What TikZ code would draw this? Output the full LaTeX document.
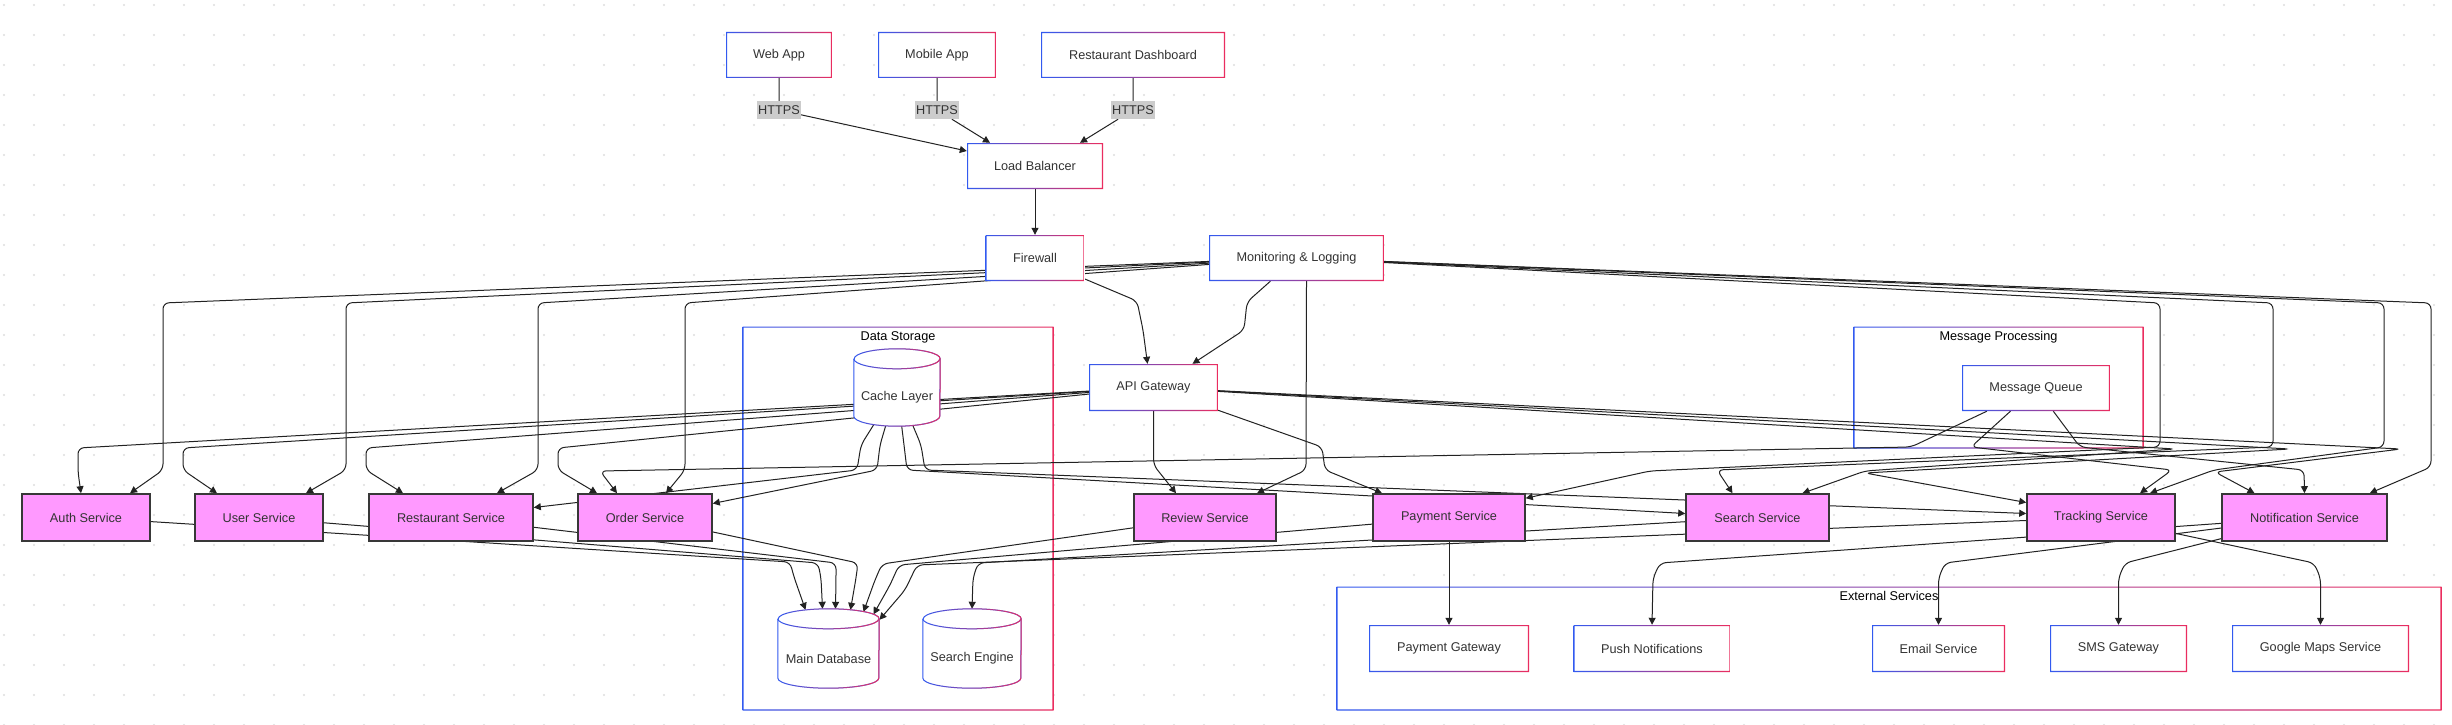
\documentclass[tikz,border=0pt]{standalone}
\usepackage{fontspec}
\setmainfont{Liberation Sans}
\usetikzlibrary{arrows.meta,calc,fadings}
\definecolor{cblue}{RGB}{50,90,240}
\definecolor{cpink}{RGB}{235,45,95}
\definecolor{csvc}{RGB}{255,153,255}
\definecolor{cedge}{RGB}{34,34,34}
\definecolor{ctext}{RGB}{51,51,51}
\definecolor{cdot}{RGB}{222,222,222}
\newcommand{\nf}{\fontsize{12.7}{15}\selectfont}
\pgfdeclarelayer{dots}
\pgfdeclarelayer{groups}
\pgfdeclarelayer{edges}
\pgfdeclarelayer{drums}
\pgfsetlayers{dots,groups,edges,drums,main}
\tikzset{
  % blue-to-pink outline for paths
  gline/.style={draw=cblue,line width=1pt,
    postaction={draw=cpink,line width=1pt,path fading=west}},
  % blue-to-pink frame inside a node, #1 = frame width
  gframe/.style={fill=white,path picture={
    \shade[left color=cblue,right color=cpink,even odd rule]
      (path picture bounding box.south west) rectangle (path picture bounding box.north east)
      ([shift={(#1,#1)}]path picture bounding box.south west)
      rectangle ([shift={(-#1,-#1)}]path picture bounding box.north east);}},
  plain/.style={rectangle,gframe=1.2pt,minimum height=46pt,font=\nf,text=ctext},
  svc/.style={rectangle,fill=csvc,draw=cedge!90,line width=1.6pt,minimum height=47pt,
    font=\nf,text=ctext},
  grp/.style={rectangle,gframe=1.1pt},
  grptitle/.style={font=\nf,text=black},
  drum/.style={rectangle,minimum height=79pt,inner sep=0pt},
  dlabel/.style={font=\nf,text=ctext,yshift=-10pt},
  tag/.style={rectangle,fill=gray!40,font=\nf,text=ctext,inner sep=1pt,
    minimum width=42pt,minimum height=18pt},
  arr/.style={draw=cedge,line width=1pt,rounded corners=6pt,
    -{Triangle[length=7pt,width=7pt]}}
}
% cylinder drawn round a named node, #2 = half width
\newcommand{\drum}[2]{%
  \begin{pgfonlayer}{drums}
    \path[fill=white] ([yshift=-10pt]#1.north west) -- ([yshift=10pt]#1.south west)
      arc[start angle=180,end angle=360,x radius=#2pt,y radius=10pt]
      -- ([yshift=-10pt]#1.north east)
      arc[start angle=0,end angle=180,x radius=#2pt,y radius=10pt] -- cycle;
    \draw[gline] ([yshift=-10pt]#1.north west) -- ([yshift=10pt]#1.south west)
      arc[start angle=180,end angle=360,x radius=#2pt,y radius=10pt]
      -- ([yshift=-10pt]#1.north east)
      arc[start angle=0,end angle=180,x radius=#2pt,y radius=10pt];
    \draw[gline] ([yshift=-10pt]#1.north west)
      arc[start angle=180,end angle=360,x radius=#2pt,y radius=10pt];
  \end{pgfonlayer}}

\begin{document}
\begin{tikzpicture}[x=1pt,y=-1pt]
  \useasboundingbox (0,0) rectangle (2452,725);
  \begin{pgfonlayer}{dots}
    \fill[white] (0,0) rectangle (2452,725);
    \foreach \x in {4,34,...,2434}
      \foreach \y in {5,35,...,725}
        \fill[cdot] (\x,\y) circle (1.1pt);
  \end{pgfonlayer}

  % groups
  \begin{pgfonlayer}{groups}
    \node[grp,minimum width=311pt,minimum height=384pt] (storage) at (898,518.5) {};
    \node[grp,minimum width=290pt,minimum height=122pt] (msgproc) at (1998.5,387.5) {};
    \node[grp,minimum width=1105pt,minimum height=124pt] (external) at (1889,648.5) {};
  \end{pgfonlayer}
  \node[grptitle] (storagetitle) at (898,337) {Data Storage};
  \node[grptitle] (msgproctitle) at (1998.5,337) {Message Processing};
  \node[grptitle] (externaltitle) at (1889,596) {External Services};

  % clients and entry
  \node[plain,minimum width=106pt] (web) at (779,55) {Web App};
  \node[plain,minimum width=118pt] (mob) at (937,55) {Mobile App};
  \node[plain,minimum width=184pt] (dash) at (1133,55) {Restaurant Dashboard};
  \node[tag] (webtag) at (779,110) {HTTPS};
  \node[tag] (mobtag) at (937,110) {HTTPS};
  \node[tag] (dashtag) at (1133,110) {HTTPS};
  \node[plain,minimum width=136pt] (lb) at (1035,166) {Load Balancer};
  \node[plain,minimum width=99pt] (fw) at (1035,258) {Firewall};
  \node[plain,minimum width=175pt] (mon) at (1296.5,258) {Monitoring \& Logging};
  \node[plain,minimum width=129pt,minimum height=47pt] (api) at (1153.5,387.5) {API Gateway};
  \node[plain,minimum width=148pt] (mq) at (2036,388) {Message Queue};

  % storage
  \node[drum,minimum width=86pt,minimum height=77pt,label={[dlabel]center:Cache Layer}] (cache) at (897,387.5) {};
  \node[drum,minimum width=101pt,label={[dlabel]center:Main Database}] (db) at (828.5,648.5) {};
  \node[drum,minimum width=98pt,label={[dlabel]center:Search Engine}] (se) at (972,648.5) {};
  \drum{cache}{43}
  \drum{db}{50.5}
  \drum{se}{49}

  % services
  \node[svc,minimum width=128pt] (auth) at (86,517.5) {Auth Service};
  \node[svc,minimum width=128pt] (user) at (259,517.5) {User Service};
  \node[svc,minimum width=164pt] (rest) at (451,517.5) {Restaurant Service};
  \node[svc,minimum width=134pt] (order) at (645,517.5) {Order Service};
  \node[svc,minimum width=142pt] (review) at (1205,517.5) {Review Service};
  \node[svc,minimum width=152pt] (pay) at (1449,517.5) {Payment Service};
  \node[svc,minimum width=143pt] (search) at (1757.5,517.5) {Search Service};
  \node[svc,minimum width=148pt] (track) at (2101,517.5) {Tracking Service};
  \node[svc,minimum width=165pt] (notif) at (2304.5,517.5) {Notification Service};

  % external
  \node[plain,minimum width=160pt,minimum height=47pt] (pgw) at (1449,648.5) {Payment Gateway};
  \node[plain,minimum width=157pt,minimum height=47pt] (push) at (1652,648.5) {Push Notifications};
  \node[plain,minimum width=133pt,minimum height=47pt] (email) at (1938.5,648.5) {Email Service};
  \node[plain,minimum width=137pt,minimum height=47pt] (sms) at (2118.5,648.5) {SMS Gateway};
  \node[plain,minimum width=177pt,minimum height=47pt] (gmaps) at (2320.5,648.5) {Google Maps Service};

  \begin{pgfonlayer}{edges}
    % entry path
    \draw[arr] (web) -- (webtag) -- ([yshift=15pt]lb.west);
    \draw[arr] (mob) -- (mobtag) -- ([xshift=-45pt]lb.north);
    \draw[arr] (dash) -- (dashtag) -- ([xshift=45pt]lb.north);
    \draw[arr] (lb) -- (fw);
    \draw[arr] (fw) -- (1137,301) -- (1143,330) -- ([xshift=-6pt]api.north);
    \draw[arr] (mon) -- (1247,302) -- (1244,330) -- ([xshift=39pt]api.north);

    % monitoring
    \draw[arr] (mon) -- (163,303) -- (163,470) -- ([xshift=44pt]auth.north);
    \draw[arr] (mon) -- (346,303) -- (346,470) -- ([xshift=47pt]user.north);
    \draw[arr] (mon) -- (538,303) -- (538,470) -- ([xshift=46pt]rest.north);
    \draw[arr] (mon) -- (685,303) -- (685,470) -- ([xshift=21pt]order.north);
    \draw[arr] ([xshift=10pt]mon.south) -- (1306,470) -- ([xshift=52pt]review.north);
    \draw[arr] (mon) -- (2160,303) -- (2160,447) -- (1650,471) -- ([yshift=-5pt]pay.north east);
    \draw[arr] (mon) -- (2273,303) -- (2273,447) -- (1717,470) -- ([xshift=-25pt]search.north);
    \draw[arr] (mon) -- (2384,303) -- (2384,447) -- (2214,470) -- ([xshift=49pt]track.north);
    \draw[arr] (mon) -- (2431,303) -- (2431,467) -- ([xshift=-18pt]notif.north east);

    % api gateway
    \draw[arr] (api) -- (78,448) -- (78,472) -- ([xshift=-5pt]auth.north);
    \draw[arr] (api) -- (183,448) -- (183,470) -- ([xshift=-42pt]user.north);
    \draw[arr] (api) -- (366,448) -- (366,470) -- ([xshift=-48pt]rest.north);
    \draw[arr] (api) -- (558,448) -- (558,470) -- ([xshift=-48pt]order.north);
    \draw[arr] (api.south) -- (1153.5,465) -- ([xshift=-29pt]review.north);
    \draw[arr] (api) -- (1322,447) -- (1325,470) -- ([xshift=-67pt]pay.north);
    \draw[arr] (api) -- (2175,449) -- (1865,471) -- ([xshift=45pt]search.north);
    \draw[arr] (api) -- (2290,449) -- (1865,473) -- ([yshift=15pt]track.west);
    \draw[arr] (api) -- (2401,449) -- (2215,472) -- ([xshift=-50pt]notif.north);

    % message queue
    \draw[arr] (mq) -- (1911,447) -- (600,471) -- ([xshift=-28pt]order.north);
    \draw[arr] (mq) -- (1971,447) -- (2172,470) -- ([xshift=39pt]track.north);
    \draw[arr] (mq) -- (2080,447) -- (2304,470) -- (notif.north);

    % cache
    \draw[arr] (cache.center) -- (861,445) -- (857,470) -- ([yshift=10pt]rest.east);
    \draw[arr] (cache.center) -- (880,445) -- (877,470) -- ([yshift=14pt]order.east);
    \draw[arr] (cache.center) -- (904,445) -- (907,470) -- ([yshift=4pt]search.west);
    \draw[arr] (cache.center) -- (921,445) -- (925,470) -- ([yshift=4pt]track.west);

    % main database
    \draw[arr] (auth) -- (790,562) -- (794,577) -- ($(db.north)+(-23,1)$);
    \draw[arr] (user) -- (818,563) -- (821,578) -- ($(db.north)+(-6,0)$);
    \draw[arr] (rest) -- (836,563) -- (836,578) -- ($(db.north)+(7,0)$);
    \draw[arr] (order) -- (858,563) -- (856,578) -- ($(db.north)+(22,1)$);
    \draw[arr] (review) -- (882,564) -- (875,580) -- ($(db.north)+(35,3)$);
    \draw[arr] (pay) -- (899,565) -- (890,585) -- ($(db.north)+(45,5.5)$);
    \draw[arr] (track) -- (917,565) -- (905,590) -- ($(db.north)+(51,11)$);
    \draw[arr] (search) -- (978,563) -- (973,578) -- (se.north);

    % external calls
    \draw[arr] (pay) -- (pgw);
    \draw[arr] (notif) -- (1660,563) -- (1653,578) -- (push.north);
    \draw[arr] (notif) -- (1945,563) -- (1938.5,578) -- (email.north);
    \draw[arr] (notif) -- (2125,563) -- (2118.5,578) -- (sms.north);
    \draw[arr] (track) -- (2314,563) -- (2320.5,578) -- (gmaps.north);
  \end{pgfonlayer}
\end{tikzpicture}
\end{document}
